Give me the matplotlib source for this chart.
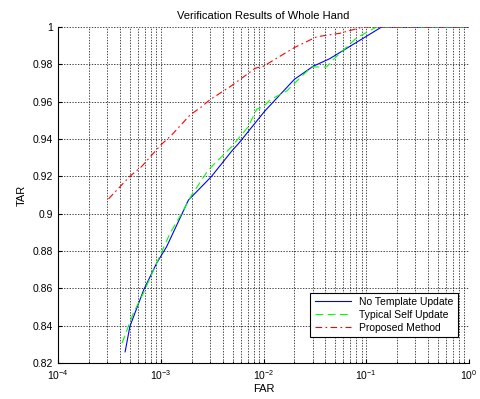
import matplotlib
matplotlib.use('Agg')
import matplotlib.pyplot as plt
from matplotlib.ticker import LogLocator, FixedLocator

plt.rcParams['font.family'] = ['Liberation Sans', 'DejaVu Sans']

# Curvas
far_no_update = [4.5e-4, 5.0e-4, 6.8e-4, 9.1e-4, 1.14e-3, 1.86e-3, 3.1e-3,
                 4.9e-3, 5.7e-3, 1.03e-2, 2.0e-2, 3.05e-2, 4.4e-2, 9.35e-2, 0.141, 1.0]
tar_no_update = [0.826, 0.8395, 0.859, 0.8734, 0.8823, 0.9073, 0.9198,
                 0.9335, 0.9375, 0.955, 0.972, 0.979, 0.983, 0.994, 1.0, 1.0]

far_self_update = [4.2e-4, 5.4e-4, 6.76e-4, 8.8e-4, 1.23e-3, 1.6e-3, 2.0e-3, 2.9e-3,
                   4.9e-3, 7.1e-3, 8.6e-3, 1.0e-2, 1.16e-2, 1.68e-2, 2.11e-2, 2.94e-2,
                   4.1e-2, 4.8e-2, 8.1e-2, 0.126, 1.0]
tar_self_update = [0.8307, 0.8466, 0.8573, 0.8716, 0.8895, 0.9002, 0.910, 0.9234,
                   0.9359, 0.9466, 0.956, 0.9573, 0.961, 0.9657, 0.9711, 0.9786,
                   0.9786, 0.9827, 0.9943, 1.0, 1.0]

far_proposed = [3.1e-4, 5.0e-4, 6.5e-4, 1.0e-3, 1.28e-3, 1.6e-3, 1.93e-3, 2.5e-3,
                3.0e-3, 4.9e-3, 8.3e-3, 1.0e-2, 2.0e-2, 3.3e-2, 5.5e-2, 9.3e-2, 1.0]
tar_proposed = [0.9079, 0.920, 0.9252, 0.9368, 0.9422, 0.948, 0.9529, 0.9573,
                0.961, 0.9686, 0.9779, 0.979, 0.989, 0.9948, 0.9966, 1.0, 1.0]

y_ticks = [0.82, 0.84, 0.86, 0.88, 0.9, 0.92, 0.94, 0.96, 0.98, 1]
y_labels = ['0.82', '0.84', '0.86', '0.88', '0.9', '0.92', '0.94', '0.96', '0.98', '1']

fig = plt.figure(figsize=(4.81, 3.99), dpi=100)
ax = fig.add_axes([0.1206, 0.0902, 0.8545, 0.8421])

ax.plot(far_no_update, tar_no_update, color='#0000ff', lw=0.8, label='No Template Update')
ax.plot(far_self_update, tar_self_update, color='#00ff00', lw=0.8, linestyle=(0, (7, 4)),
        label='Typical Self Update')
ax.plot(far_proposed, tar_proposed, color='#ff0000', lw=0.8, linestyle=(0, (6, 3, 1.5, 3)),
        label='Proposed Method')

ax.set_xscale('log')
ax.set_xlim(1e-4, 1)
ax.set_ylim(0.82, 1)
ax.yaxis.set_major_locator(FixedLocator(y_ticks))
ax.set_yticklabels(y_labels)
ax.xaxis.set_major_locator(LogLocator(base=10))
ax.xaxis.set_minor_locator(LogLocator(base=10, subs=range(2, 10)))

grid_style = dict(color='black', linestyle=(0, (2, 2)), linewidth=0.5)
ax.grid(True, which='major', axis='both', **grid_style)
ax.grid(True, which='minor', axis='x', **grid_style)

# sem caixa: só eixos esquerdo e inferior
ax.spines['top'].set_visible(False)
ax.spines['right'].set_visible(False)
for s in ('left', 'bottom'):
    ax.spines[s].set_linewidth(0.8)

ax.tick_params(which='both', direction='in', labelsize=7.5)
ax.tick_params(which='major', length=3)
ax.tick_params(which='minor', length=1.5)

ax.set_title('Verification Results of Whole Hand', fontsize=8, pad=6)
ax.set_xlabel('FAR', fontsize=8, labelpad=2)
ax.set_ylabel('TAR', fontsize=8, labelpad=4)

leg = ax.legend(loc='lower right', bbox_to_anchor=(0.973, 0.077), borderaxespad=0,
                fontsize=7.5, fancybox=False, edgecolor='black', framealpha=1,
                handlelength=3.5, labelspacing=0.3, borderpad=0.4)
leg.get_frame().set_linewidth(0.8)

fig.savefig('out.png', dpi=100)
